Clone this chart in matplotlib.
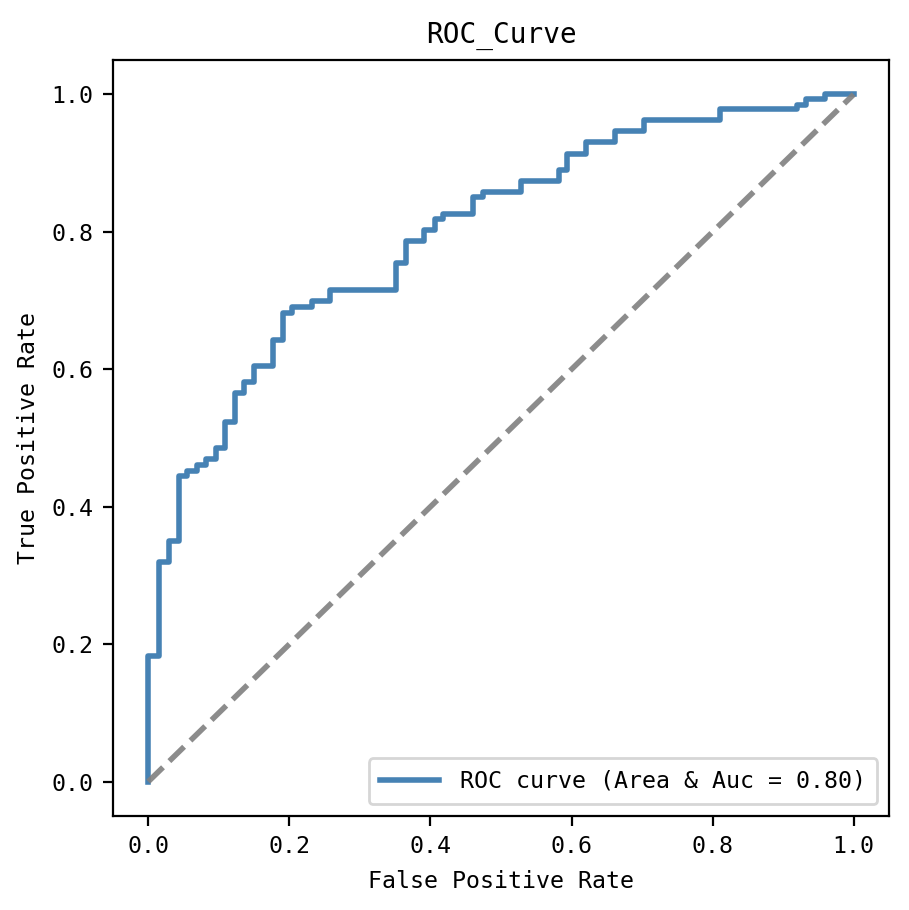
import matplotlib
matplotlib.use("Agg")
import matplotlib.pyplot as plt

fpr = [0.0, 0.0, 0.0156, 0.0156, 0.0288, 0.0288, 0.0429, 0.0429, 0.0548, 0.0548,
       0.069, 0.069, 0.082, 0.082, 0.096, 0.096, 0.109, 0.109, 0.123, 0.123,
       0.136, 0.136, 0.150, 0.150, 0.177, 0.177, 0.191, 0.191, 0.204, 0.204,
       0.232, 0.232, 0.258, 0.258, 0.351, 0.351, 0.365, 0.365, 0.391, 0.391,
       0.406, 0.406, 0.418, 0.418, 0.460, 0.460, 0.474, 0.474, 0.528, 0.528,
       0.582, 0.582, 0.594, 0.594, 0.621, 0.621, 0.662, 0.662, 0.702, 0.702,
       0.811, 0.811, 0.919, 0.919, 0.932, 0.932, 0.959, 0.959, 1.0]
tpr = [0.0, 0.183, 0.183, 0.319, 0.319, 0.350, 0.350, 0.445, 0.445, 0.452,
       0.452, 0.461, 0.461, 0.469, 0.469, 0.485, 0.485, 0.524, 0.524, 0.565,
       0.565, 0.581, 0.581, 0.605, 0.605, 0.643, 0.643, 0.682, 0.682, 0.690,
       0.690, 0.699, 0.699, 0.715, 0.715, 0.755, 0.755, 0.786, 0.786, 0.802,
       0.802, 0.819, 0.819, 0.826, 0.826, 0.851, 0.851, 0.858, 0.858, 0.874,
       0.874, 0.890, 0.890, 0.913, 0.913, 0.930, 0.930, 0.946, 0.946, 0.962,
       0.962, 0.978, 0.978, 0.985, 0.985, 0.993, 0.993, 1.0, 1.0]
auc_value = 0.80
diag = [0.0, 1.0]
ticks = [0.0, 0.2, 0.4, 0.6, 0.8, 1.0]

plt.rcParams['font.family'] = ['DejaVu Sans Mono', 'Noto Sans CJK SC']
FS = 8.4

fig = plt.figure(figsize=(909 / 200, 910 / 200), dpi=200)
ax = fig.add_axes([113 / 909, 1 - 816 / 910, (889 - 113) / 909, (816 - 60) / 910])

ax.plot(fpr, tpr, color='steelblue', lw=2,
        label='ROC curve (Area & Auc = %0.2f)' % auc_value)
ax.plot(diag, diag, color='gray', lw=2, linestyle='--', alpha=0.9)
ax.set_xlim(-0.05, 1.05)
ax.set_ylim(-0.05, 1.05)
ax.set_xticks(ticks)
ax.set_yticks(ticks)
ax.set_xticklabels(['%.1f' % t for t in ticks], fontsize=FS)
ax.set_yticklabels(['%.1f' % t for t in ticks], fontsize=FS)
ax.set_xlabel('False Positive Rate', fontsize=FS)
ax.set_ylabel('True Positive Rate', fontsize=FS)
ax.set_title('ROC_Curve', fontsize=10)
ax.legend(loc='lower right', fontsize=FS, handlelength=2.5, handletextpad=0.9,
          borderpad=0.5)

fig.savefig('out.png', dpi=200)
